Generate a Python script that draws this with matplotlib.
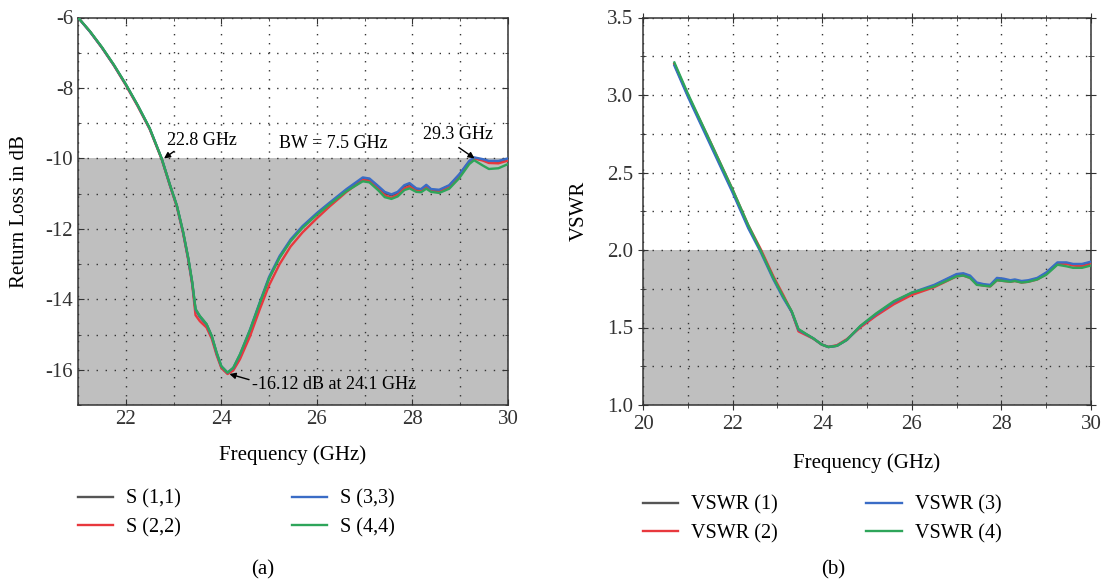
import matplotlib
matplotlib.use("Agg")
import matplotlib.pyplot as plt
from matplotlib.ticker import MultipleLocator

plt.rcParams['font.family'] = ['Liberation Serif', 'DejaVu Serif']

# ---- data ----
freq_s = [21.0, 21.25, 21.5, 21.75, 22.0, 22.25, 22.5, 22.75, 22.93, 23.07, 23.2, 23.31, 23.39,
          23.46, 23.55, 23.69, 23.8, 23.9, 24.0, 24.13, 24.25, 24.39, 24.6, 24.8, 25.0, 25.22,
          25.45, 25.7, 26.0, 26.27, 26.62, 26.96, 27.1, 27.28, 27.42, 27.56, 27.69, 27.83, 27.94,
          28.08, 28.18, 28.29, 28.39, 28.56, 28.77, 28.98, 29.19, 29.29, 29.47, 29.6, 29.8, 30.0]
s11 = [-6.0, -6.4, -6.85, -7.35, -7.9, -8.5, -9.15, -10.0, -10.78, -11.35, -12.1, -12.86, -13.53,
       -14.3, -14.5, -14.72, -15.06, -15.53, -15.92, -16.1, -15.97, -15.6, -14.9, -14.14, -13.4,
       -12.8, -12.33, -11.95, -11.58, -11.28, -10.9, -10.57, -10.6, -10.8, -10.98, -11.05, -10.98,
       -10.79, -10.73, -10.87, -10.89, -10.78, -10.89, -10.91, -10.78, -10.47, -10.09, -9.99, -10.04,
       -10.09, -10.1, -10.03]
s22 = [-6.0, -6.4, -6.86, -7.36, -7.92, -8.52, -9.17, -10.02, -10.8, -11.38, -12.13, -12.9, -13.58,
       -14.45, -14.62, -14.8, -15.12, -15.58, -15.95, -16.12, -16.02, -15.7, -15.05, -14.3, -13.6,
       -13.0, -12.5, -12.1, -11.7, -11.36, -10.95, -10.61, -10.64, -10.86, -11.05, -11.12, -11.03,
       -10.85, -10.8, -10.92, -10.93, -10.82, -10.93, -10.95, -10.82, -10.5, -10.11, -10.0, -10.06,
       -10.13, -10.14, -10.06]
s33 = [-6.0, -6.4, -6.85, -7.35, -7.9, -8.5, -9.15, -10.0, -10.78, -11.35, -12.1, -12.86, -13.53,
       -14.29, -14.48, -14.71, -15.05, -15.52, -15.9, -16.08, -15.95, -15.57, -14.86, -14.1, -13.36,
       -12.77, -12.3, -11.92, -11.55, -11.25, -10.87, -10.54, -10.57, -10.78, -10.95, -11.02, -10.95,
       -10.76, -10.7, -10.85, -10.87, -10.75, -10.87, -10.89, -10.76, -10.45, -10.07, -9.97, -10.02,
       -10.07, -10.07, -10.0]
s44 = [-6.0, -6.39, -6.84, -7.34, -7.89, -8.49, -9.14, -10.0, -10.77, -11.34, -12.08, -12.84, -13.5,
       -14.27, -14.47, -14.7, -15.04, -15.5, -15.9, -16.08, -15.94, -15.56, -14.87, -14.12, -13.4,
       -12.82, -12.35, -11.97, -11.6, -11.3, -10.93, -10.65, -10.68, -10.9, -11.1, -11.15, -11.08,
       -10.9, -10.85, -10.95, -10.96, -10.86, -10.95, -10.98, -10.86, -10.56, -10.16, -10.05, -10.2,
       -10.3, -10.28, -10.16]

freq_v = [20.7, 21.0, 21.5, 22.0, 22.35, 22.62, 22.91, 23.13, 23.32, 23.47, 23.66, 23.8, 23.99,
          24.14, 24.33, 24.55, 24.85, 25.2, 25.6, 26.0, 26.5, 27.0, 27.15, 27.3, 27.45, 27.6,
          27.75, 27.9, 28.05, 28.2, 28.3, 28.45, 28.6, 28.8, 29.0, 29.25, 29.45, 29.6, 29.8, 30.0]
vswr1 = [3.2, 3.0, 2.69, 2.38, 2.15, 2.0, 1.82, 1.7, 1.6, 1.485, 1.453, 1.43, 1.39, 1.374, 1.382,
         1.42, 1.506, 1.58, 1.66, 1.72, 1.77, 1.84, 1.845, 1.83, 1.785, 1.775, 1.77, 1.815, 1.81,
         1.8, 1.805, 1.795, 1.8, 1.815, 1.85, 1.915, 1.915, 1.905, 1.905, 1.92]
vswr2 = [3.2, 3.0, 2.7, 2.39, 2.16, 2.01, 1.83, 1.71, 1.6, 1.475, 1.448, 1.428, 1.39, 1.375, 1.386,
         1.425, 1.5, 1.575, 1.65, 1.71, 1.76, 1.83, 1.835, 1.82, 1.78, 1.77, 1.765, 1.805, 1.8,
         1.795, 1.8, 1.79, 1.795, 1.81, 1.845, 1.91, 1.91, 1.9, 1.895, 1.91]
vswr3 = [3.19, 2.99, 2.68, 2.37, 2.14, 1.99, 1.81, 1.69, 1.6, 1.485, 1.453, 1.43, 1.39, 1.374, 1.382,
         1.42, 1.508, 1.585, 1.665, 1.725, 1.775, 1.845, 1.85, 1.835, 1.79, 1.78, 1.775, 1.82, 1.815,
         1.805, 1.81, 1.8, 1.805, 1.82, 1.855, 1.92, 1.92, 1.91, 1.91, 1.925]
vswr4 = [3.21, 3.01, 2.7, 2.39, 2.16, 2.0, 1.82, 1.7, 1.605, 1.49, 1.455, 1.43, 1.39, 1.374, 1.382,
         1.42, 1.51, 1.59, 1.67, 1.725, 1.765, 1.83, 1.835, 1.82, 1.775, 1.77, 1.765, 1.805, 1.8,
         1.795, 1.8, 1.79, 1.795, 1.81, 1.84, 1.905, 1.895, 1.885, 1.885, 1.9]

s_labels = ['S (1,1)', 'S (2,2)', 'S (3,3)', 'S (4,4)']
v_labels = ['VSWR (1)', 'VSWR (2)', 'VSWR (3)', 'VSWR (4)']
colors = ['#555555', '#e8383d', '#3a6cc6', '#2ea55a']

W, H = 1108, 584
fig = plt.figure(figsize=(W / 100, H / 100), dpi=100)

def px_axes(x0, y0, x1, y1):
    return fig.add_axes([x0 / W, 1 - y1 / H, (x1 - x0) / W, (y1 - y0) / H])

fs = 15
shade = '#bfbfbf'

# ---------- (a) return loss ----------
ax1 = px_axes(78, 17.5, 508, 405)
ax1.axhspan(-17, -10, color=shade, lw=0, zorder=1)
for y, lab, c in zip([s11, s22, s33, s44], s_labels, colors):
    ax1.plot(freq_s, y, color=c, lw=1.7, label=lab, zorder=3)
ax1.set_xlim(21, 30)
ax1.set_ylim(-17, -6)
ax1.xaxis.set_major_locator(MultipleLocator(2))
ax1.xaxis.set_minor_locator(MultipleLocator(1))
ax1.yaxis.set_major_locator(MultipleLocator(2))
ax1.yaxis.set_minor_locator(MultipleLocator(1))
ax1.set_xticks([22, 24, 26, 28, 30])
ax1.tick_params(which='both', direction='in', labelsize=fs, colors='#333333', top=True, right=True)
ax1.tick_params(which='major', length=4)
ax1.tick_params(which='minor', length=2)
ax1.set_yticks([-16, -14, -12, -10, -8, -6])
ax1.set_yticklabels(['-16', '-14', '-12', '-10', '-8', '-6'])
ax1.set_xlabel('Frequency (GHz)', fontsize=fs, va='center')
ax1.xaxis.set_label_coords(0.5, -0.129)
ax1.set_ylabel('Return Loss in dB', fontsize=fs, va='center')
ax1.yaxis.set_label_coords(-0.137, 0.5)

arrow = dict(arrowstyle='-|>', color='black', lw=1.0, mutation_scale=9, shrinkA=0, shrinkB=0)
ax1.annotate('', xy=(22.8, -10.0), xytext=(23.01, -9.8), arrowprops=arrow, zorder=4)
ax1.text(22.86, -9.48, '22.8 GHz', fontsize=13, va='center')
ax1.text(25.2, -9.57, 'BW = 7.5 GHz', fontsize=13, va='center')
ax1.annotate('', xy=(29.3, -10.0), xytext=(28.97, -9.69), arrowprops=arrow, zorder=4)
ax1.text(28.23, -9.31, '29.3 GHz', fontsize=13, va='center')
ax1.annotate('', xy=(24.17, -16.12), xytext=(24.58, -16.28), arrowprops=arrow, zorder=4)
ax1.text(24.64, -16.43, '-16.12 dB at 24.1 GHz', fontsize=13, va='center')

# ---------- (b) VSWR ----------
ax2 = px_axes(643, 17.5, 1091, 405)
ax2.axhspan(1.0, 2.0, color=shade, lw=0, zorder=1)
for y, lab, c in zip([vswr1, vswr2, vswr3, vswr4], v_labels, colors):
    ax2.plot(freq_v, y, color=c, lw=1.7, label=lab, zorder=3)
ax2.set_xlim(20, 30)
ax2.set_ylim(1.0, 3.5)
ax2.xaxis.set_major_locator(MultipleLocator(2))
ax2.xaxis.set_minor_locator(MultipleLocator(1))
ax2.yaxis.set_major_locator(MultipleLocator(0.5))
ax2.yaxis.set_minor_locator(MultipleLocator(0.25))
ax2.tick_params(which='both', direction='inout', labelsize=fs, colors='#333333', top=True, right=True)
ax2.tick_params(which='major', length=7)
ax2.tick_params(which='minor', length=4)
ax2.set_xlabel('Frequency (GHz)', fontsize=fs, va='center')
ax2.xaxis.set_label_coords(0.5, -0.15)
ax2.set_ylabel('VSWR', fontsize=fs, va='center')
ax2.yaxis.set_label_coords(-0.143, 0.5)

for ax in (ax1, ax2):
    ax.set_axisbelow('line')
    ax.grid(which='both', linestyle=(0, (1, 5.5)), color='#333333', lw=1.0)
    for sp in ax.spines.values():
        sp.set_color('#333333')
        sp.set_linewidth(1.1)

# legends under the axes
leg_kw = dict(ncol=2, frameon=False, fontsize=14.5, handlelength=1.74, handletextpad=0.65,
              labelspacing=0.45, borderaxespad=0, borderpad=0, loc='upper left')
h1, l1 = ax1.get_legend_handles_labels()
fig.legend(h1, l1, bbox_to_anchor=(78 / W, 1 - 489.5 / H), columnspacing=5.5, **leg_kw)
h2, l2 = ax2.get_legend_handles_labels()
fig.legend(h2, l2, bbox_to_anchor=(643 / W, 1 - 495.5 / H), columnspacing=4.4, **leg_kw)

fig.text(263 / W, 1 - 570 / H, '(a)', fontsize=fs, ha='center', va='center')
fig.text(833 / W, 1 - 570 / H, '(b)', fontsize=fs, ha='center', va='center')

fig.savefig('out.png', dpi=100)
